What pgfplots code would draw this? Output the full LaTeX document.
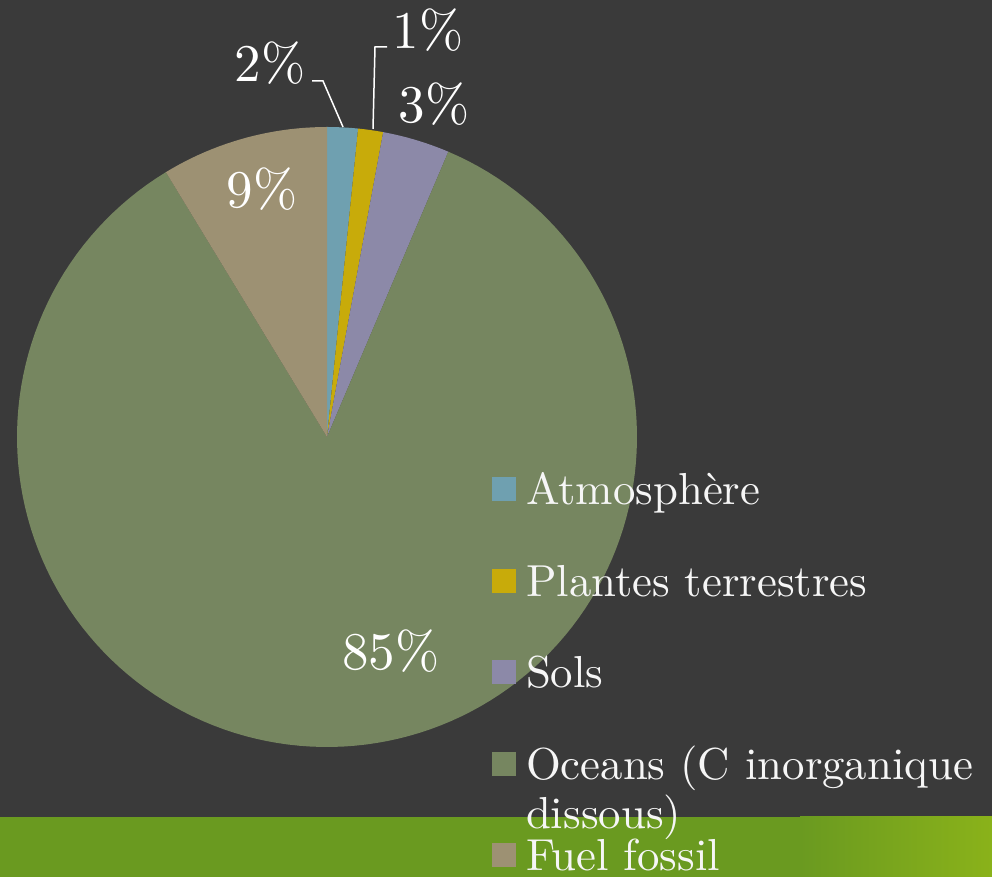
\documentclass[border=0pt]{standalone}
\usepackage{fontspec}
\setmainfont{lmroman10-regular.otf}
\usepackage{pgfplots}
\pgfplotsset{compat=1.18}
\definecolor{bg}{HTML}{3A3A3A}
\definecolor{catm}{HTML}{6FA0B0}
\definecolor{cpla}{HTML}{C8AB0A}
\definecolor{csol}{HTML}{8C89A8}
\definecolor{coce}{HTML}{768660}
\definecolor{cfue}{HTML}{9D9173}
\definecolor{gbar}{HTML}{6A9A20}
\definecolor{glight}{HTML}{8AB21A}
\definecolor{txt}{HTML}{F6F6F6}
\begin{document}
\begin{tikzpicture}[x=0.5pt,y=0.5pt]
% background and bottom band
\fill[bg] (0,0) rectangle (992,877);
\fill[gbar] (0,0) rectangle (992,60);
\shade[left color=gbar, right color=glight] (800,0) rectangle (992,60);
\begin{axis}[
  at={(0,0)}, anchor=south west,
  scale only axis, width=496pt, height=438.5pt,
  xmin=0, xmax=992, ymin=0, ymax=877,
  hide axis, clip=false,
  legend style={
    at={(axis description cs:0.496,0.4658)}, anchor=north west,
    draw=none, fill=none, inner sep=0pt, outer sep=0pt,
    text=txt, font=\fontsize{22.4}{24.5}\selectfont,
    row sep=24.3pt, column sep=3pt,
    cells={anchor=base west, inner sep=0pt, text height=16pt, text depth=5pt},
  },
  legend image code/.code={\fill[#1,draw=none] (0pt,1.75pt) rectangle (12pt,13.75pt);},
]
% slices: domain = cumulative percentages (values 1.6, 1.3, 3.5, 84.9, 8.7)
\addplot[fill=catm, draw=none, domain=0:1.6, samples=8, variable=\t]
  ({327+310*sin(3.6*\t)}, {440+310*cos(3.6*\t)}) -- (axis cs:327,440) -- cycle;
\addlegendentry{Atmosphère}
\addplot[fill=cpla, draw=none, domain=1.6:2.9, samples=8, variable=\t]
  ({327+310*sin(3.6*\t)}, {440+310*cos(3.6*\t)}) -- (axis cs:327,440) -- cycle;
\addlegendentry{Plantes terrestres}
\addplot[fill=csol, draw=none, domain=2.9:6.4, samples=12, variable=\t]
  ({327+310*sin(3.6*\t)}, {440+310*cos(3.6*\t)}) -- (axis cs:327,440) -- cycle;
\addlegendentry{Sols}
\addplot[fill=coce, draw=none, domain=6.4:91.3, samples=150, variable=\t]
  ({327+310*sin(3.6*\t)}, {440+310*cos(3.6*\t)}) -- (axis cs:327,440) -- cycle;
\addlegendentry{\parbox[t]{260pt}{Oceans (C inorganique\\dissous)}}
\addplot[fill=cfue, draw=none, domain=91.3:100, samples=24, variable=\t]
  ({327+310*sin(3.6*\t)}, {440+310*cos(3.6*\t)}) -- (axis cs:327,440) -- cycle;
\addlegendentry{Fuel fossil}
% leader lines
\draw[white, line width=0.75pt] (axis cs:312,796) -- (axis cs:323,796) -- (axis cs:343,750);
\draw[white, line width=0.75pt] (axis cs:387,830) -- (axis cs:375,830) -- (axis cs:373,748);
% data labels
\begin{scope}[every node/.style={text=white, inner sep=0pt, font=\fontsize{26.5}{30}\selectfont}]
\node at (axis cs:270,814) {2\%};
\node at (axis cs:428,847) {1\%};
\node at (axis cs:434,773) {3\%};
\node at (axis cs:262,688) {9\%};
\node at (axis cs:391,226) {85\%};
\end{scope}
\end{axis}
\pgfresetboundingbox
\useasboundingbox (0,0) rectangle (992,877);
\end{tikzpicture}
\end{document}
